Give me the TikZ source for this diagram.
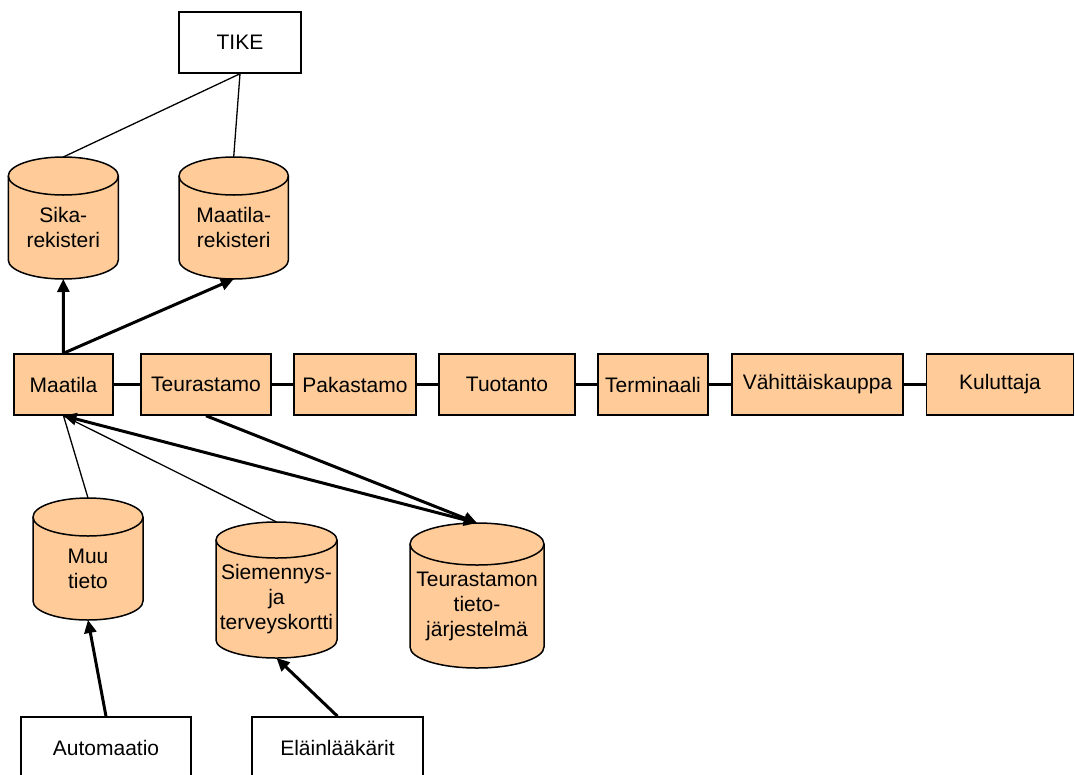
\documentclass[tikz,border=0pt]{standalone}
\usepackage{fontspec}
\setmainfont{Liberation Sans}
\usetikzlibrary{arrows.meta}
\definecolor{peach}{RGB}{255,204,153}

\tikzset{
  labelfont/.style={font=\fontsize{21}{25}\selectfont},
  box/.style={draw, line width=1.5pt, fill=peach, minimum height=61pt,
              inner sep=0pt, labelfont},
  whitebox/.style={box, fill=white},
  cylbody/.style={draw, line width=1.5pt, fill=peach},
  cylrim/.style={draw, line width=1.5pt},
  cyllabel/.style={align=center, inner sep=0pt, labelfont},
  link/.style={line width=3pt},
  thinlink/.style={line width=1.3pt},
  arrowlink/.style={line width=3pt, -{Triangle[length=13pt,width=12pt]}},
  botharrow/.style={line width=3pt, {Triangle[length=13pt,width=12pt]}-{Triangle[length=13pt,width=12pt]}},
}

% database cylinder: #1 name, #2 centre x, #3 top y, #4 bottom y,
% #5 half width, #6 half height of the end ellipses, #7 label
\newcommand{\dbcyl}[7]{%
  \path[cylbody] (#2-#5,#3+#6) -- (#2-#5,#4-#6)
    arc[start angle=180, end angle=360, x radius=#5pt, y radius=#6pt]
    -- (#2+#5,#3+#6)
    arc[start angle=0, end angle=180, x radius=#5pt, y radius=#6pt] -- cycle;
  \path[cylrim] (#2-#5,#3+#6)
    arc[start angle=180, end angle=360, x radius=#5pt, y radius=#6pt];
  \node[inner sep=0pt, outer sep=0pt, minimum width=2*#5pt,
        minimum height=#4pt-#3pt] (#1) at (#2,{(#3+#4)/2}) {};
  \node[cyllabel] (#1-label) at (#2,{(#3+#4)/2+#6/2}) {#7};
}

\begin{document}
\begin{tikzpicture}[x=1pt,y=-1pt]
\useasboundingbox (0,0) rectangle (1075,774);

% top authority
\node[whitebox, minimum width=122pt] (tike) at (240,42.5) {TIKE};

% registers
\dbcyl{sika}{63.3}{157}{279}{55}{19}{Sika-\\rekisteri}
\dbcyl{maatilarek}{233.7}{157}{279}{54.7}{19}{Maatila-\\rekisteri}

% supply chain
\node[box, minimum width=99pt]  (maatila)    at (63.5,384.5)  {Maatila};
\node[box, minimum width=130pt] (teurastamo) at (206,384.5)   {Teurastamo};
\node[box, minimum width=122pt] (pakastamo)  at (355,384.5)   {Pakastamo};
\node[box, minimum width=136pt] (tuotanto)   at (507,384.5)   {Tuotanto};
\node[box, minimum width=110pt] (terminaali) at (653,384.5)   {Terminaali};
\node[box, minimum width=171pt] (vahittais)  at (817.5,384.5) {Vähittäiskauppa};
\node[box, minimum width=147pt] (kuluttaja)  at (1000,384.5)  {Kuluttaja};

% data stores below the chain
\dbcyl{muu}{88}{498}{620}{55}{19}{Muu\\tieto}
\dbcyl{siemennys}{276.5}{522}{658}{60.5}{18}{Siemennys-\\ja\\terveyskortti}
\dbcyl{teurtieto}{477}{523}{668}{67}{21}{Teurastamon\\tieto-\\järjestelmä}

% sources
\node[whitebox, minimum width=170pt] (automaatio) at (106,747.5)   {Automaatio};
\node[whitebox, minimum width=171pt] (elain)      at (337.5,747.5) {Eläinlääkärit};

% connectors
\draw[thinlink] (tike.south) -- (sika.north);
\draw[thinlink] (tike.south) -- (maatilarek.north);
\draw[arrowlink] (maatila.north) -- (sika.south);
\draw[arrowlink] (maatila.north) -- (maatilarek.south);

\draw[link] (maatila) -- (teurastamo);
\draw[link] (teurastamo) -- (pakastamo);
\draw[link] (pakastamo) -- (tuotanto);
\draw[link] (tuotanto) -- (terminaali);
\draw[link] (terminaali) -- (vahittais);
\draw[link] (vahittais) -- (kuluttaja);

\draw[thinlink] (muu.north) -- (maatila.south);
\draw[thinlink] (siemennys.north) -- (maatila.south);
\draw[botharrow] (maatila.south) -- (teurtieto.north);
\draw[arrowlink] (teurastamo.south) -- (teurtieto.north);

\draw[arrowlink] (automaatio.north) -- (muu.south);
\draw[arrowlink] (elain.north) -- (siemennys.south);
\end{tikzpicture}
\end{document}
